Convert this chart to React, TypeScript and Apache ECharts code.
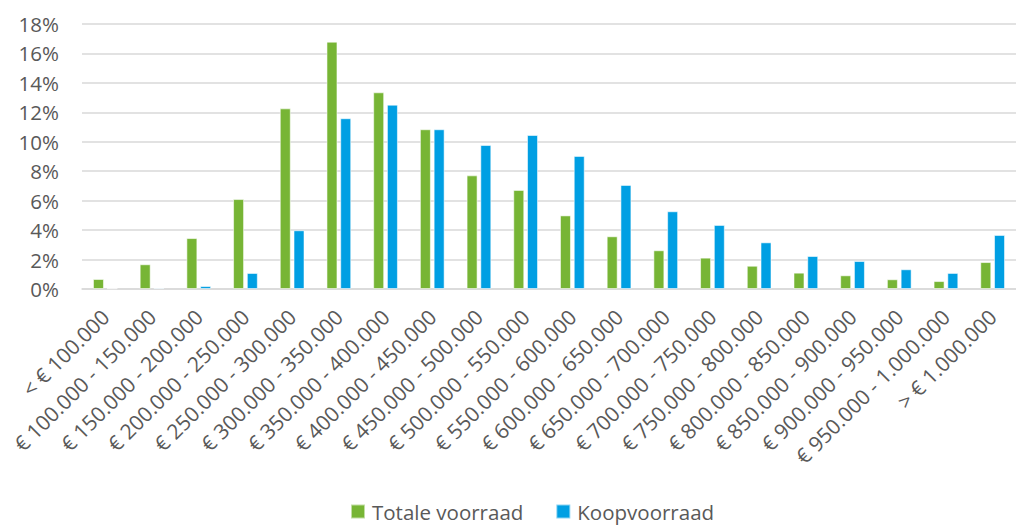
import React, { useEffect, useRef } from "react";
import * as echarts from "echarts";

const categories = [
  "< € 100.000",
  "€ 100.000 - 150.000",
  "€ 150.000 - 200.000",
  "€ 200.000 - 250.000",
  "€ 250.000 - 300.000",
  "€ 300.000 - 350.000",
  "€ 350.000 - 400.000",
  "€ 400.000 - 450.000",
  "€ 450.000 - 500.000",
  "€ 500.000 - 550.000",
  "€ 550.000 - 600.000",
  "€ 600.000 - 650.000",
  "€ 650.000 - 700.000",
  "€ 700.000 - 750.000",
  "€ 750.000 - 800.000",
  "€ 800.000 - 850.000",
  "€ 850.000 - 900.000",
  "€ 900.000 - 950.000",
  "€ 950.000 - 1.000.000",
  "> € 1.000.000",
];

const totaleVoorraad = [
  0.68, 1.68, 3.46, 6.11, 12.27, 16.8, 13.36, 10.85, 7.72, 6.73, 5.0, 3.58, 2.63,
  2.13, 1.58, 1.11, 0.93, 0.66, 0.54, 1.83,
];

const koopVoorraad = [
  0.05, 0.08, 0.2, 1.09, 3.99, 11.6, 12.52, 10.85, 9.78, 10.46, 9.04, 7.07, 5.28,
  4.35, 3.17, 2.24, 1.9, 1.34, 1.09, 3.67,
];

const seriesNames = ["Totale voorraad", "Koopvoorraad"];
const yTicks = { min: 0, max: 18, interval: 2 };

const FONT = "'Open Sans', sans-serif";
const TEXT = "#595959";

export default function App() {
  const ref = useRef<HTMLDivElement>(null);

  useEffect(() => {
    if (!ref.current) return;
    const chart = echarts.init(ref.current, null, { renderer: "svg" });
    chart.setOption({
      animation: false,
      textStyle: { fontFamily: FONT },
      grid: { left: 82, top: 24, width: 945, height: 265, containLabel: false },
      legend: {
        data: seriesNames,
        top: 496,
        left: 345,
        itemWidth: 14,
        itemHeight: 14,
        itemGap: 32,
        icon: "rect",
        textStyle: {
          color: TEXT,
          fontSize: 20.5,
          lineHeight: 20,
          fontFamily: FONT,
          padding: [0, 0, 0, 2],
        },
      },
      xAxis: {
        type: "category",
        data: categories,
        axisTick: { show: false },
        axisLine: { lineStyle: { color: "#d9d9d9", width: 1.5 } },
        axisLabel: {
          interval: 0,
          rotate: 45,
          margin: 24,
          color: TEXT,
          fontSize: 21,
          fontFamily: FONT,
        },
      },
      yAxis: {
        type: "value",
        min: yTicks.min,
        max: yTicks.max,
        interval: yTicks.interval,
        axisLine: { show: false },
        axisTick: { show: false },
        splitLine: { lineStyle: { color: "#d9d9d9", width: 1.5 } },
        axisLabel: {
          formatter: "{value}%",
          color: TEXT,
          fontSize: 20.5,
          fontFamily: FONT,
          margin: 23,
        },
      },
      series: [
        {
          name: seriesNames[0],
          type: "bar",
          data: totaleVoorraad,
          barWidth: 11,
          barGap: "25%",
          itemStyle: { color: "#77B535", borderColor: "rgba(255,255,255,0.55)", borderWidth: 1 },
        },
        {
          name: seriesNames[1],
          type: "bar",
          data: koopVoorraad,
          barWidth: 11,
          barGap: "25%",
          itemStyle: { color: "#009FE3", borderColor: "rgba(255,255,255,0.55)", borderWidth: 1 },
        },
      ],
    });
    return () => chart.dispose();
  }, []);

  return (
    <div
      ref={ref}
      style={{ position: "absolute", left: 0, top: 0, width: 1016, height: 525 }}
    />
  );
}
